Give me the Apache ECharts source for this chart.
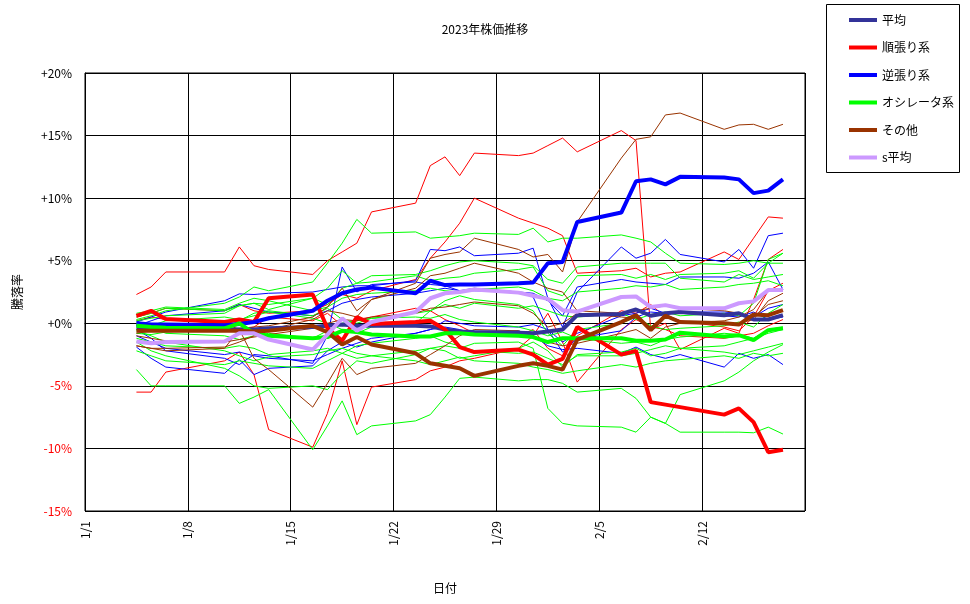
<!DOCTYPE html>
<html>
<head>
<meta charset="utf-8">
<title>2023年株価推移</title>
<script src="https://cdn.jsdelivr.net/npm/echarts@6/dist/echarts.min.js"></script>
<style>
  html, body { margin: 0; padding: 0; background: #fff; }
  #chart { width: 970px; height: 604px; }
</style>
</head>
<body>
<div id="chart"></div>
<script>
// 取引日
var dates = ['1/4','1/5','1/6','1/10','1/11','1/12','1/13','1/16','1/17','1/18','1/19','1/20',
  '1/23','1/24','1/25','1/26','1/27','1/30','1/31','2/1','2/2','2/3','2/6','2/7','2/8','2/9','2/10',
  '2/13','2/14','2/15','2/16','2/17'];
var tickLabels = ['1/1','1/8','1/15','1/22','1/29','2/5','2/12'];

// 太線 (系統平均)
var avg    = [-0.3,-0.3,-0.4,-0.5,-0.5,-0.5,-0.4, -0.3,-0.2,-0.1,-0.2,-0.2, -0.2,-0.25,-0.5,-0.65,-0.7, -0.75,-0.8,-0.65,-0.5,0.65, 0.75,1.1,0.6,0.8,0.9, 0.65,0.8,0.3,0.3,0.65];
var trend  = [0.6,1.0,0.35,0.1,0.3,0.1,2.0, 2.3,-0.4,-1.4,0.5,-0.05, 0.1,0.2,-0.5,-1.9,-2.3, -2.1,-2.5,-3.3,-2.85,-0.3, -2.5,-2.2,-6.3,-6.5,-6.7, -7.3,-6.8,-7.9,-10.3,-10.1];
var contra = [0.0,-0.1,-0.1,-0.15,-0.05,0.1,0.4, 1.0,1.8,2.4,2.7,2.85, 2.4,3.4,3.05,3.1,3.1, 3.2,3.25,4.8,4.9,8.1, 8.85,11.35,11.5,11.1,11.7, 11.65,11.5,10.4,10.6,11.5];
var osc    = [-0.2,-0.3,-0.35,-0.4,0.0,-0.8,-1.0, -1.2,-1.1,-0.6,-0.7,-0.9, -1.05,-1.05,-0.8,-0.8,-0.9, -1.0,-1.1,-1.5,-1.2,-1.2, -1.2,-1.4,-1.4,-1.3,-0.75, -1.05,-0.95,-1.35,-0.55,-0.4];
var other  = [-0.6,-0.6,-0.6,-0.6,-0.6,-0.65,-0.6, -0.2,-0.7,-1.7,-1.1,-1.7, -2.4,-3.2,-3.4,-3.6,-4.2, -3.4,-3.2,-3.4,-3.7,-1.3, 0.1,0.65,-0.55,0.6,0.1, 0.0,-0.1,0.7,0.65,1.05];
var savg   = [-1.45,-1.6,-1.5,-1.45,-0.8,-0.8,-1.3, -2.1,-0.9,0.4,-0.6,0.1, 0.9,2.0,2.4,2.5,2.7, 2.45,2.2,1.95,1.05,0.93, 2.1,2.15,1.3,1.45,1.2, 1.2,1.6,1.75,2.65,2.65];

// 細線 (個別銘柄)
var trendA = [2.3,2.9,4.1,4.1,6.1,4.6,4.3, 3.9,5.0,5.7,6.4,8.9, 9.6,12.6,13.3,11.8,13.6, 13.4,13.6,14.2,14.8,13.7, 15.4,14.6,-0.5,0.0,-2.1, -0.4,-0.8,1.9,5.1,5.9];
var trendB = [0.5,0.8,1.2,1.0,1.5,1.0,0.8, 1.0,1.5,2.3,2.0,2.6, 3.5,5.2,6.5,8.0,10.0, 8.4,8.0,7.6,7.0,4.0, 4.2,4.4,3.7,4.0,4.1, 5.7,5.1,6.8,8.5,8.4];
var trendC = [-5.5,-5.5,-3.9,-3.0,-2.3,-4.1,-8.5, -9.9,-7.2,-3.0,-8.1,-5.1, -4.5,-3.8,-3.5,-3.0,-2.8, -2.0,-1.0,0.8,-1.5,-4.7, -0.5,0.3,-0.3,-0.5,-1.0, -1.2,-1.0,-0.8,-0.2,0.3];
var trendD = [0.2,0.5,0.3,0.0,-0.5,-0.3,0.5, 0.2,0.8,-0.2,0.3,0.5, 1.2,1.0,0.3,-0.2,-0.8, -1.0,-0.5,-2.0,-2.6,-1.0, 1.0,0.8,1.5,0.5,0.2, -0.3,-0.6,0.5,2.6,3.2];

var contraA = [0.1,0.5,0.9,1.8,2.35,2.3,2.4, 2.5,2.7,2.9,3.0,3.0, 3.4,5.9,5.8,6.1,5.4, 5.6,6.0,2.0,-0.3,2.5, 6.1,5.2,5.6,6.7,5.5, 4.9,5.9,4.4,7.0,7.2];
var contraB = [-1.0,-1.5,-2.0,-2.5,-2.3,-2.6,-2.8, -3.0,-2.5,-2.0,-1.6,-1.2, -0.8,-0.5,-0.3,-0.5,-0.8, -0.6,-1.0,-1.8,-2.1,-2.0, -2.4,-1.9,-2.5,-2.8,-2.5, -3.5,-2.4,-2.8,-2.5,-3.3];
var contraC = [-0.5,-1.2,-2.2,-2.8,-3.3,-2.5,-2.6, -3.2,-1.0,4.5,2.5,3.1, 3.3,3.1,3.0,2.6,2.8, 2.5,2.1,-0.5,-1.5,-0.8, 0.6,0.8,1.2,0.8,0.9, 0.9,0.8,0.5,1.2,1.5];
var contraD = [-1.9,-2.8,-3.5,-4.0,-2.9,-4.1,-3.6, -3.4,-2.2,-1.5,-1.9,-1.5, -0.8,-0.5,0.2,0.0,-0.2, -0.3,-0.1,-0.5,-2.3,-1.2, -0.6,0.5,0.9,0.8,0.8, 0.6,0.5,0.9,0.3,0.5];
var contraE = [-0.2,0.2,0.6,1.0,1.5,1.2,0.9, 0.6,1.0,1.6,1.9,2.1, 2.4,2.6,2.8,2.6,2.6, 2.5,2.4,1.8,0.6,2.9, 3.5,3.3,3.2,3.1,3.7, 3.7,3.6,4.0,4.9,2.7];

var oscA = [0.3,0.6,1.0,1.6,2.1,2.9,2.6, 3.3,4.8,6.4,8.3,7.2, 7.3,6.8,6.9,7.0,7.2, 7.1,7.6,6.5,6.8,6.8, 7.06,6.8,6.5,5.6,4.8, 4.7,4.8,5.0,4.8,4.8];
var oscB = [0.5,0.8,1.2,1.0,1.4,1.6,1.5, 2.0,2.8,4.2,3.2,3.8, 3.9,4.2,4.6,4.9,5.0, 4.8,4.6,3.5,3.2,4.5, 4.8,4.8,4.8,4.8,3.6, 3.3,3.9,3.5,3.7,3.9];
var oscC = [-3.7,-5.0,-5.0,-5.0,-6.4,-5.9,-5.3, -10.1,-8.2,-6.2,-8.9,-8.2, -7.8,-7.3,-5.9,-4.4,-4.3, -4.6,-4.5,-4.5,-4.8,-5.5, -5.2,-6.0,-7.5,-8.0,-5.7, -4.6,-3.9,-3.0,-2.3,-1.7];
var oscD = [-2.2,-2.6,-3.0,-3.3,-3.0,-3.2,-3.4, -3.6,-3.0,-2.4,-2.8,-2.6, -2.2,-2.0,-1.8,-2.0,-1.6, -1.5,-2.0,-6.8,-8.0,-8.2, -8.3,-8.7,-7.5,-8.0,-8.7, -8.7,-8.7,-8.75,-8.3,-8.85];
var oscE = [-1.5,-2.2,-2.6,-3.6,-4.2,-5.0,-5.2, -5.0,-5.3,-4.0,-3.0,-3.2, -2.5,-2.0,-2.2,-2.8,-2.6, -2.0,-1.5,-2.2,-3.5,-2.5, -2.3,-2.0,-2.6,-2.4,-2.0, -1.8,-1.5,-1.2,-0.8,-0.5];
var oscF = [0.0,-0.3,-0.8,-1.0,-1.3,-1.0,-0.8, -1.2,-0.6,0.0,0.2,0.4, 0.8,1.0,1.5,1.2,1.6, 1.2,1.4,1.0,0.6,0.5, 0.8,0.3,0.7,0.9,0.6, 0.8,0.6,1.6,5.1,5.6];
var oscG = [0.8,1.0,1.3,1.1,1.6,2.0,1.8, 1.0,1.3,2.0,2.3,2.4, 2.6,2.8,2.6,2.5,2.7, 2.9,2.6,2.0,1.8,2.5, 2.8,3.0,2.9,3.1,2.7, 2.9,3.1,3.2,3.4,3.0];
var oscH = [-0.8,-0.9,-0.7,-0.4,0.2,0.8,1.0, 0.6,1.2,0.3,0.0,0.4, 0.5,0.4,0.7,0.3,0.1, -0.3,-0.6,-1.0,-0.7,-1.2, -1.6,-1.5,-1.8,-1.3,-1.1, -0.8,-0.9,-1.2,-0.5,-0.3];
var oscI = [-1.2,-1.5,-1.8,-2.0,-1.8,-2.0,-2.5, -2.2,-2.0,-2.4,-1.8,-1.6, -1.2,-1.0,-1.5,-1.8,-2.2, -2.4,-2.3,-2.8,-3.3,-2.6, -2.6,-2.4,-2.1,-1.8,-2.0, -2.3,-2.5,-2.2,-1.9,-1.6];
var oscJ = [-0.6,-1.0,-1.5,-2.2,-2.6,-3.0,-2.7, -2.5,-2.2,-2.0,-2.4,-2.6, -3.0,-3.3,-3.0,-2.7,-3.0, -3.2,-3.5,-3.7,-4.0,-3.8, -3.3,-3.5,-3.2,-3.0,-2.9, -2.6,-2.8,-2.4,-2.6,-2.4];
var oscK = [0.2,0.4,0.6,0.8,1.4,1.6,1.1, 2.0,1.5,2.8,3.2,3.3, 3.8,3.4,3.6,3.7,4.0, 4.3,4.5,2.6,2.2,3.8, 3.9,3.6,3.9,3.5,3.9, 4.0,4.2,3.6,4.8,5.6];
var oscL = [-0.5,-0.2,0.2,0.5,0.3,0.6,0.9, 0.4,0.0,-0.5,-0.8,-0.3, 0.0,1.0,1.8,2.2,1.9, 1.5,1.0,-0.8,-1.8,-0.5, 0.0,0.5,-0.2,-0.5,-0.4, -0.2,0.1,-0.3,0.8,1.5];

var otherA = [-1.8,-2.0,-2.0,-1.9,-1.5,-1.0,-0.5, 0.3,1.0,0.8,0.5,1.9, 3.2,5.2,5.5,5.7,6.8, 5.9,5.3,5.5,4.1,8.1, 13.2,14.7,14.9,16.65,16.8, 15.5,15.85,15.9,15.5,15.9];
var otherB = [-1.8,-2.0,-2.2,-2.0,-0.5,-2.8,-3.7, -6.7,-4.8,-2.8,-4.1,-3.6, -3.2,-2.5,-1.8,-1.0,-0.5, -0.6,-1.0,-1.5,-1.8,-1.6, -0.8,-0.5,-1.2,-0.3,0.0, 0.2,0.5,1.1,2.6,2.6];
var otherC = [-1.0,-1.2,-1.4,-1.5,-1.3,-1.1,-0.9, -0.4,0.0,0.3,0.2,0.5, 0.8,1.2,1.3,1.5,1.7, 1.4,0.8,-0.3,0.0,0.8, 0.5,0.4,-0.3,0.7,0.2, -0.1,0.0,0.3,1.8,2.4];
var otherD = [-0.8,-0.6,-0.5,-0.4,-0.4,-0.3,-0.2, 0.5,1.3,2.8,1.0,1.9, 2.8,3.8,4.0,4.4,4.8, 4.0,3.3,2.8,2.5,1.0, 0.8,1.0,1.2,1.4,1.2, 1.0,0.8,0.5,1.5,1.8];

var FONT = '"Noto Sans CJK JP", sans-serif';

// 1/1 からの日数 (点は日の中央)
function dayOf(s) {
  var p = s.split('/');
  var m = +p[0], d = +p[1];
  return (m === 1 ? d - 1 : 31 + d - 1) + 0.5;
}
function pts(arr) {
  return dates.map(function (d, i) { return [dayOf(d), arr[i]]; });
}

var thin = [
  ['#ff0000', trendA], ['#ff0000', trendB], ['#ff0000', trendC], ['#ff0000', trendD],
  ['#0000ff', contraA], ['#0000ff', contraB], ['#0000ff', contraC], ['#0000ff', contraD], ['#0000ff', contraE],
  ['#00ff00', oscA], ['#00ff00', oscB], ['#00ff00', oscC], ['#00ff00', oscD], ['#00ff00', oscE], ['#00ff00', oscF],
  ['#00ff00', oscG], ['#00ff00', oscH], ['#00ff00', oscI], ['#00ff00', oscJ], ['#00ff00', oscK], ['#00ff00', oscL],
  ['#993300', otherA], ['#993300', otherB], ['#993300', otherC], ['#993300', otherD]
];
var thick = [
  ['平均', '#333399', avg],
  ['順張り系', '#ff0000', trend],
  ['逆張り系', '#0000ff', contra],
  ['オシレータ系', '#00ff00', osc],
  ['その他', '#993300', other],
  ['s平均', '#cc99ff', savg]
];

var series = [];
thin.forEach(function (t, i) {
  series.push({
    name: 'stock' + i, type: 'line', data: pts(t[1]),
    symbol: 'none', silent: true, z: 2,
    lineStyle: { color: t[0], width: 1 }, itemStyle: { color: t[0] }
  });
});
thick.forEach(function (t, i) {
  series.push({
    name: t[0], type: 'line', data: pts(t[2]),
    symbol: 'none', silent: true, z: 3 + i,
    lineStyle: { color: t[1], width: 4 }, itemStyle: { color: t[1] }
  });
});

var chart = echarts.init(document.getElementById('chart'));
chart.setOption({
  animation: false,
  backgroundColor: '#fff',
  title: {
    text: '2023年株価推移', left: 'center', top: 18,
    textStyle: { fontSize: 12, fontWeight: 'normal', color: '#000', fontFamily: FONT }
  },
  graphic: [{
    type: 'rect', z: 0,
    shape: { x: 826.5, y: 4.5, width: 133, height: 168 },
    style: { fill: '#fff', stroke: '#000', lineWidth: 1 }
  }],
  legend: {
    orient: 'vertical', left: 844, top: 9, itemGap: 15.5,
    itemWidth: 28, itemHeight: 4, z: 5,
    data: thick.map(function (t) { return { name: t[0], icon: 'rect' }; }),
    textStyle: { fontSize: 12, color: '#000', fontFamily: FONT }
  },
  grid: {
    left: 85, top: 73, width: 720, height: 438,
    show: true, borderColor: '#000', borderWidth: 1
  },
  xAxis: {
    type: 'value', min: 0, max: 49, interval: 7,
    name: '日付', nameLocation: 'middle', nameGap: 71,
    nameTextStyle: { fontSize: 12, color: '#000', fontFamily: FONT },
    axisLine: { show: true, lineStyle: { color: '#000' } },
    axisTick: { show: true, length: 4, lineStyle: { color: '#000' } },
    splitLine: { show: true, lineStyle: { color: '#000', width: 1 } },
    axisLabel: {
      rotate: 90, margin: 10, fontSize: 12, color: '#000', fontFamily: FONT,
      showMaxLabel: false,
      formatter: function (v) { return tickLabels[Math.round(v / 7)] || ''; }
    }
  },
  yAxis: {
    type: 'value', min: -15, max: 20, interval: 5,
    name: '騰落率', nameLocation: 'middle', nameGap: 62, nameRotate: 90,
    nameTextStyle: { fontSize: 12, color: '#000', fontFamily: FONT },
    axisLine: { show: true, lineStyle: { color: '#000' } },
    axisTick: { show: false },
    splitLine: { show: true, lineStyle: { color: '#000', width: 1 } },
    axisLabel: {
      margin: 13, fontSize: 12, fontFamily: FONT,
      color: function (v) { return parseFloat(v) < 0 ? '#ff0000' : '#000'; },
      formatter: function (v) { return (v >= 0 ? '+' : '') + v + '%'; }
    }
  },
  series: series
});
</script>
</body>
</html>
